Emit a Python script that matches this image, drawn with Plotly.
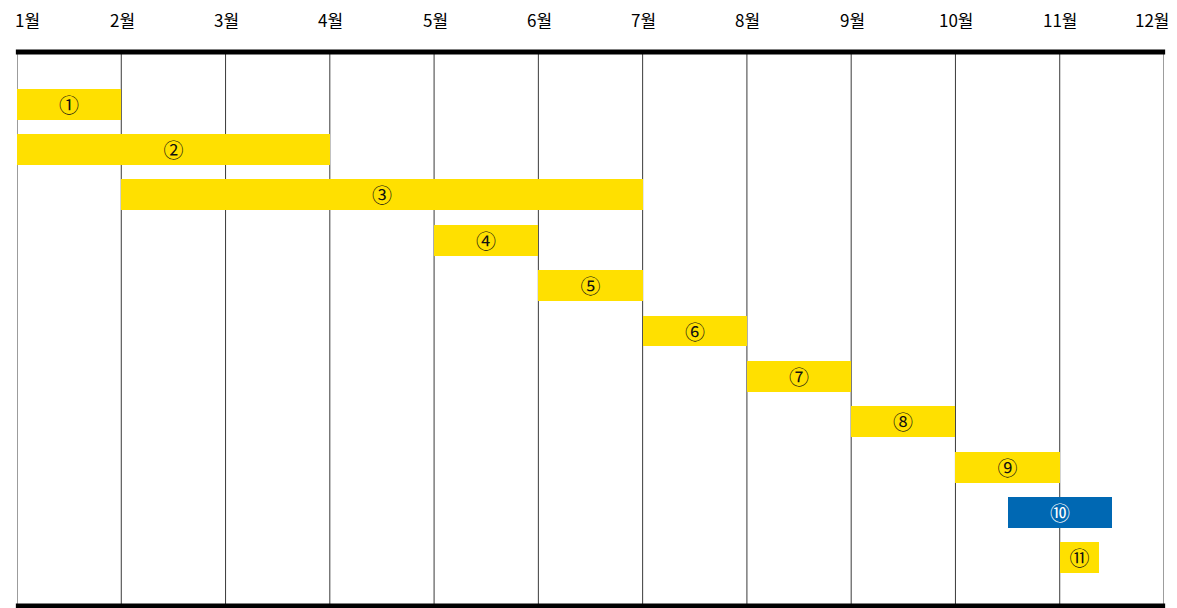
import plotly.graph_objects as go

months = ["1월", "2월", "3월", "4월", "5월", "6월", "7월", "8월", "9월", "10월", "11월", "12월"]
month_pos = list(range(1, 13))
labels = ["①", "②", "③", "④", "⑤", "⑥", "⑦", "⑧", "⑨", "⑩", "⑪"]
rows = list(range(1, 12))
starts = [1, 1, 2, 5, 6, 7, 8, 9, 10, 10.5, 11]
ends = [2, 4, 7, 6, 7, 8, 9, 10, 11, 11.5, 11.38]
colors = ["#FFE000"] * 9 + ["#0068B3", "#FFE000"]
text_colors = ["#111111"] * 9 + ["#FFFFFF", "#111111"]

FONT = "Noto Sans CJK KR"

fig = go.Figure()
fig.add_trace(go.Bar(
    orientation="h",
    y=rows,
    x=[e - s for s, e in zip(starts, ends)],
    base=starts,
    width=0.68,
    marker=dict(color=colors, line=dict(width=0)),
    text=labels,
    textposition="inside",
    insidetextanchor="middle",
    textangle=0,
    constraintext="none",
    textfont=dict(family=FONT, size=20, color=text_colors),
    hoverinfo="skip",
))

shapes = []
for m in month_pos:
    shapes.append(dict(type="line", xref="x", yref="paper", x0=m, x1=m, y0=0, y1=1,
                       line=dict(color="#3a3a3a", width=1), layer="below"))
shapes.append(dict(type="line", xref="paper", yref="paper", x0=-0.001, x1=1.001, y0=1, y1=1,
                   line=dict(color="#000000", width=5)))
shapes.append(dict(type="line", xref="paper", yref="paper", x0=-0.001, x1=1.001, y0=0, y1=0,
                   line=dict(color="#000000", width=5)))

annotations = []
for i, (m, lab) in enumerate(zip(month_pos, months)):
    if i == 0:
        xa, xs = "left", -3
    elif i == len(months) - 1:
        xa, xs = "right", 7
    else:
        xa, xs = "center", 1
    annotations.append(dict(x=m, y=1, xref="x", yref="paper", text=lab, showarrow=False,
                            xanchor=xa, yanchor="middle", yshift=33, xshift=xs,
                            borderpad=0,
                            font=dict(family=FONT, size=17, color="#000000")))

fig.update_layout(
    width=1169, height=600,
    margin=dict(l=9, r=13, t=44, b=2),
    paper_bgcolor="white", plot_bgcolor="white",
    showlegend=False,
    bargap=0,
    xaxis=dict(range=[1, 12], showgrid=False, zeroline=False, showticklabels=False, ticks=""),
    yaxis=dict(range=[12.06, -0.148], showgrid=False, zeroline=False, showticklabels=False, ticks=""),
    shapes=shapes,
    annotations=annotations,
    font=dict(family=FONT),
)

fig.write_html("out.html")
